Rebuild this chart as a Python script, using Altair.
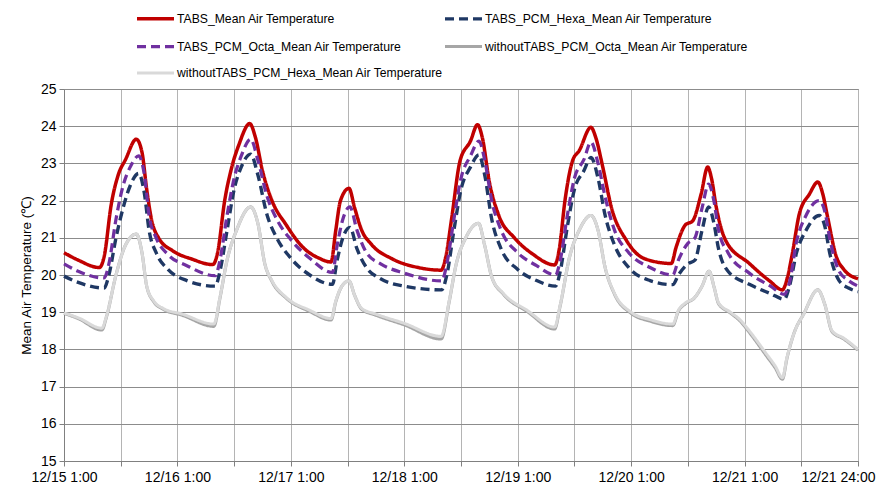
import altair as alt
import pandas as pd

# ---- data (hour index from 12/15 1:00, temperature in deg C) ----
series_names = [
    "TABS_Mean Air Temperature",
    "TABS_PCM_Hexa_Mean Air Temperature",
    "TABS_PCM_Octa_Mean Air Temperature",
    "withoutTABS_PCM_Octa_Mean Air Temperature",
    "withoutTABS_PCM_Hexa_Mean Air Temperature",
]
series_colors = ["#c00000", "#1f3864", "#7030a0", "#a6a6a6", "#d9d9d9"]
series_dashes = [[1, 0], [9, 5], [9, 5], [1, 0], [1, 0]]
series_widths = [3.5, 3, 3, 3, 3]

x_tick_labels = ["12/15 1:00", "12/16 1:00", "12/17 1:00", "12/18 1:00",
                 "12/19 1:00", "12/20 1:00", "12/21 1:00", "12/21 24:00"]

tabs_h = [0, 3, 7.5, 8.5, 10, 11.5, 13, 15.3, 16.5, 17.5, 18.5, 20, 23, 27, 31.5,
          32.5, 34, 35.5, 37, 39.3, 40.5, 42, 44, 47, 50.5, 54, 56.5,
          57.5, 58.5, 60.3, 61.5, 63, 65, 69.5, 75, 79.8,
          80.8, 82, 83.8, 86, 87.5, 88.5, 90, 92, 95.3, 99.2, 103.8,
          104.8, 106, 107.6, 109, 111.5, 112.5, 114, 115.8, 119, 123, 128.5,
          129.5, 131.5, 133, 134.8, 136.2, 137, 138, 140, 145, 149.3, 152,
          153, 154, 155.6, 157.7, 159.5, 160.5, 161.5, 163.4, 165, 168]
tabs_t = [20.6, 20.4, 20.2, 20.5, 21.9, 22.7, 23.1, 23.65, 23.3, 22.3, 21.5, 21.0, 20.65, 20.43, 20.28,
          20.6, 22.0, 22.9, 23.5, 24.07, 23.7, 22.8, 22.0, 21.35, 20.75, 20.45, 20.35,
          21.2, 22.0, 22.33, 21.8, 21.2, 20.83, 20.43, 20.2, 20.13,
          20.5, 21.5, 23.07, 23.6, 24.04, 23.7, 22.5, 21.6, 21.0, 20.56, 20.27,
          20.7, 22.0, 23.07, 23.34, 23.97, 23.7, 22.9, 21.83, 20.93, 20.43, 20.31,
          20.74, 21.35, 21.45, 22.17, 22.9, 22.6, 21.83, 20.93, 20.31, 19.84, 19.6,
          19.9, 20.5, 21.65, 22.17, 22.5, 22.2, 21.6, 20.5, 20.15, 19.9]

octa_h = [0, 3, 8.5, 9.5, 11, 12.5, 14, 15.8, 17, 18, 19.5, 22, 26, 32,
          33, 34.5, 36, 37.5, 39.5, 41, 43, 45, 48, 52, 56.8,
          57.8, 59, 60.5, 62, 64, 67, 72, 79.9,
          81, 82.5, 84, 86, 87.8, 89, 90.5, 92.5, 96, 100, 104,
          105, 106.5, 108, 110, 111.5, 113, 114.5, 116.5, 119.5, 124, 128.8,
          130, 132, 133.5, 135, 136.4, 137.5, 138.5, 140.5, 145, 149.5, 152.4,
          153.5, 155, 157, 159.8, 161, 162, 164, 166, 168]
octa_t = [20.3, 20.1, 19.92, 20.3, 21.5, 22.4, 22.9, 23.2, 22.7, 21.6, 21.0, 20.55, 20.25, 19.98,
          20.4, 21.6, 22.6, 23.2, 23.65, 23.1, 22.1, 21.5, 20.95, 20.45, 20.07,
          20.8, 21.5, 21.83, 21.2, 20.6, 20.3, 20.05, 19.84,
          20.3, 21.5, 22.6, 23.2, 23.6, 23.1, 22.0, 21.2, 20.6, 20.25, 20.0,
          20.4, 21.6, 22.6, 23.1, 23.57, 23.0, 22.1, 21.2, 20.6, 20.2, 20.0,
          20.4, 20.85, 21.0, 21.8, 22.44, 22.0, 21.2, 20.6, 20.05, 19.7, 19.48,
          19.8, 20.9, 21.6, 22.0, 21.7, 21.0, 20.1, 19.85, 19.7]

hexa_h = octa_h
hexa_t = [19.97, 19.8, 19.65, 20.0, 21.0, 21.8, 22.4, 22.73, 22.2, 21.2, 20.6, 20.15, 19.85, 19.7,
          20.1, 21.2, 22.3, 22.9, 23.25, 22.7, 21.6, 21.0, 20.45, 20.0, 19.75,
          20.4, 21.0, 21.28, 20.7, 20.2, 19.9, 19.7, 19.6,
          20.0, 21.2, 22.3, 22.9, 23.23, 22.7, 21.5, 20.7, 20.15, 19.85, 19.7,
          20.1, 21.3, 22.3, 22.8, 23.16, 22.6, 21.6, 20.8, 20.2, 19.85, 19.74,
          20.0, 20.3, 20.4, 21.2, 21.83, 21.4, 20.7, 20.1, 19.75, 19.5, 19.35,
          19.7, 20.6, 21.2, 21.6, 21.3, 20.6, 19.85, 19.65, 19.55]

wo_h = [0, 3, 8, 9, 11, 13, 15.3, 16.5, 17.5, 19, 21, 25, 31.7,
        33, 34.5, 36.5, 39.5, 41, 42.5, 44, 47, 52, 56.5,
        57.5, 58.8, 60.3, 61.5, 63, 66, 72, 79.8,
        81.5, 83, 85, 87.7, 89, 90.5, 93, 98, 103.8,
        105, 107, 109, 111.5, 113, 114.5, 116.5, 120, 124, 128.8,
        130, 131.5, 133.5, 135, 136.5, 137.5, 138.5, 141, 143, 145, 148.5, 150.5, 152,
        153, 154.5, 156.5, 159.5, 161, 162.5, 165, 168]
wo_hexa_t = [18.98, 18.85, 18.57, 18.9, 20.0, 20.8, 21.1, 20.6, 19.7, 19.3, 19.1, 18.95, 18.68,
             19.4, 20.4, 21.2, 21.83, 21.4, 20.3, 19.85, 19.4, 19.05, 18.83,
             19.3, 19.7, 19.84, 19.45, 19.1, 18.95, 18.7, 18.35,
             19.3, 20.3, 21.0, 21.39, 20.8, 19.95, 19.5, 19.05, 18.6,
             19.2, 20.5, 21.2, 21.6, 21.2, 20.2, 19.5, 19.0, 18.8, 18.68,
             19.05, 19.25, 19.4, 19.7, 20.1, 19.7, 19.25, 19.0, 18.8, 18.5, 17.9, 17.55, 17.24,
             17.8, 18.45, 18.95, 19.6, 19.2, 18.5, 18.3, 18.0]
wo_octa_t = [18.97, 18.83, 18.52, 18.88, 20.0, 20.8, 21.1, 20.6, 19.7, 19.28, 19.08, 18.92, 18.62,
             19.38, 20.4, 21.2, 21.83, 21.4, 20.3, 19.83, 19.38, 19.02, 18.79,
             19.28, 19.7, 19.84, 19.45, 19.08, 18.92, 18.66, 18.28,
             19.28, 20.3, 21.0, 21.39, 20.8, 19.95, 19.48, 19.02, 18.55,
             19.18, 20.5, 21.2, 21.6, 21.2, 20.2, 19.48, 18.97, 18.76, 18.64,
             19.03, 19.23, 19.4, 19.7, 20.1, 19.7, 19.23, 18.98, 18.77, 18.46, 17.85, 17.5, 17.2,
             17.78, 18.45, 18.95, 19.6, 19.2, 18.48, 18.28, 17.98]

rows = []
for name, hs, ts in [
    (series_names[0], tabs_h, tabs_t),
    (series_names[1], hexa_h, hexa_t),
    (series_names[2], octa_h, octa_t),
    (series_names[3], wo_h, wo_octa_t),
    (series_names[4], wo_h, wo_hexa_t),
]:
    for i, (h, t) in enumerate(zip(hs, ts)):
        rows.append({"series": name, "hour": h, "temp": t, "order": i})
df = pd.DataFrame(rows)

label_array = "[" + ",".join("'" + s + "'" for s in x_tick_labels) + "]"
label_expr = f"datum.value % 24 == 0 ? {label_array}[datum.value / 24] : ''"

FONT = "Liberation Sans"


def make_legend():
    return alt.Legend(title=None, orient="none", legendX=71, legendY=-91,
                      direction="horizontal", columns=2, columnPadding=-12, rowPadding=-17,
                      symbolType="stroke", symbolSize=1369,
                      labelFont=FONT, labelFontSize=12.2, labelColor="#000000",
                      labelOffset=1, labelLimit=400, padding=0)


chart = alt.Chart(df).mark_line(interpolate="monotone").encode(
    x=alt.X("hour:Q",
            scale=alt.Scale(domain=[0, 168], nice=False, zero=False),
            axis=alt.Axis(values=list(range(0, 169, 12)), labelExpr=label_expr,
                          title=None, grid=True, gridColor="#b4b4b4", gridWidth=1,
                          domainColor="#808080", tickColor="#808080", tickSize=5,
                          labelFont=FONT, labelFontSize=14, labelColor="#000000",
                          labelPadding=4, labelOverlap=False, labelFlush=False,
                          labelOffset=alt.ConditionalAxisNumber(
                              condition={"test": "datum.value == 168", "value": -20},
                              value=0))),
    y=alt.Y("temp:Q",
            scale=alt.Scale(domain=[15, 25], nice=False, zero=False),
            axis=alt.Axis(values=list(range(15, 26)), title="Mean Air Temperature (℃)",
                          grid=True, gridColor="#8c8c8c", gridWidth=1,
                          domainColor="#808080", tickColor="#808080", tickSize=5,
                          labelFont=FONT, labelFontSize=14, labelColor="#000000",
                          labelPadding=3, titleFont=FONT, titleFontSize=13.5,
                          titleFontWeight="normal", titleColor="#000000", titlePadding=7)),
    color=alt.Color("series:N",
                    scale=alt.Scale(domain=series_names, range=series_colors),
                    legend=make_legend()),
    strokeDash=alt.StrokeDash("series:N",
                              scale=alt.Scale(domain=series_names, range=series_dashes),
                              legend=make_legend()),
    strokeWidth=alt.StrokeWidth("series:N",
                                scale=alt.Scale(domain=series_names, range=series_widths),
                                legend=make_legend()),
    order=alt.Order("order:Q"),
).properties(
    width=794, height=372,
    autosize=alt.AutoSizeParams(type="none"),
    padding={"left": 56, "top": 81, "right": 19, "bottom": 28},
    background="white",
).configure_view(stroke="#808080", strokeWidth=1)

chart.save("out.html", embed_options={"renderer": "svg", "actions": False})
